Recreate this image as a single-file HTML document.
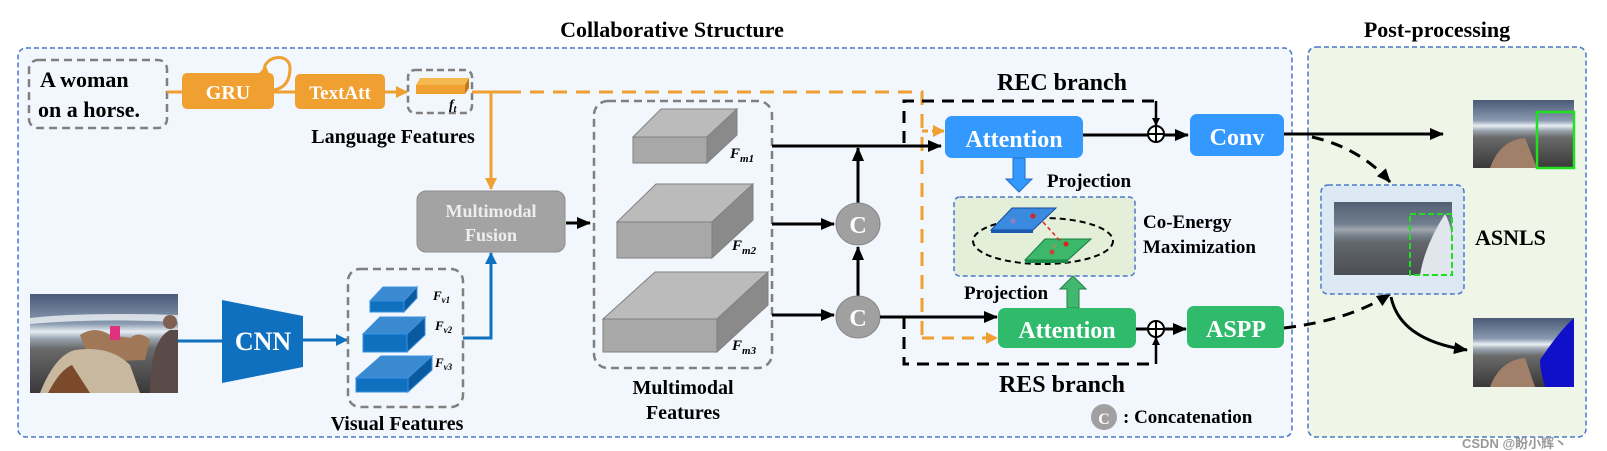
<!DOCTYPE html>
<html><head><meta charset="utf-8"><style>
html,body{margin:0;padding:0;background:#fff;}
svg{display:block;}
text{font-family:"Liberation Serif",serif;font-weight:bold;}
</style></head><body>
<svg width="1607" height="451" viewBox="0 0 1607 451" xmlns="http://www.w3.org/2000/svg">
<defs>
<marker id="ak" markerWidth="8" markerHeight="8" refX="7" refY="4" orient="auto" markerUnits="userSpaceOnUse"><path d="M0,0 L8,4 L0,8 z" fill="#000"/></marker>
<marker id="akb" markerWidth="14" markerHeight="12" refX="13" refY="6" orient="auto" markerUnits="userSpaceOnUse"><path d="M0,0 L14,6 L0,12 z" fill="#000"/></marker>
<marker id="ao" markerWidth="12" markerHeight="12" refX="11" refY="6" orient="auto" markerUnits="userSpaceOnUse"><path d="M0,0 L12,6 L0,12 z" fill="#f0a030"/></marker>
<marker id="ab" markerWidth="12" markerHeight="12" refX="11" refY="6" orient="auto" markerUnits="userSpaceOnUse"><path d="M0,0 L12,6 L0,12 z" fill="#0f70c0"/></marker>
<linearGradient id="sky" x1="0" y1="0" x2="0" y2="1">
<stop offset="0" stop-color="#4a5a78"/><stop offset="0.3" stop-color="#8a9ab0"/><stop offset="0.38" stop-color="#e8eef2"/><stop offset="0.45" stop-color="#9aa5b0"/><stop offset="0.55" stop-color="#6a6a6a"/><stop offset="1" stop-color="#3a3838"/>
</linearGradient>
</defs>

<!-- titles -->
<text x="672" y="37" font-size="22" text-anchor="middle">Collaborative Structure</text>
<text x="1437" y="37" font-size="22" text-anchor="middle">Post-processing</text>

<!-- main containers -->
<rect x="18" y="48" width="1274" height="389" rx="8" fill="#f2f6fd" stroke="#4a78c8" stroke-width="1.5" stroke-dasharray="5,3"/>
<rect x="1308" y="47" width="278" height="390" rx="8" fill="#eff6e8" stroke="#4a78c8" stroke-width="1.5" stroke-dasharray="5,3"/>

<!-- text input -->
<rect x="29" y="60" width="138" height="68" rx="9" fill="none" stroke="#808080" stroke-width="2.5" stroke-dasharray="8,5"/>
<text x="40" y="87" font-size="22">A  woman</text>
<text x="38" y="117" font-size="22">on a horse.</text>
<line x1="167" y1="92" x2="182" y2="92" stroke="#f0a030" stroke-width="3"/>
<rect x="182" y="73" width="92" height="36" rx="5" fill="#f0a030"/>
<text x="228" y="99" font-size="20" fill="#fff" text-anchor="middle">GRU</text>
<path d="M264,73 C262,55 290,52 290,68 C290,80 285,88 274,90" fill="none" stroke="#f0a030" stroke-width="3"/>
<path d="M258,74 L266,66 L270,76 z" fill="#f0a030"/>
<line x1="274" y1="92" x2="295" y2="92" stroke="#f0a030" stroke-width="3"/>
<rect x="295" y="74" width="90" height="35" rx="5" fill="#f0a030"/>
<text x="340" y="99" font-size="19" fill="#fff" text-anchor="middle">TextAtt</text>
<line x1="385" y1="92" x2="407" y2="92" stroke="#f0a030" stroke-width="3" marker-end="url(#ao)"/>
<rect x="408" y="70" width="64" height="43" rx="7" fill="none" stroke="#808080" stroke-width="2.5" stroke-dasharray="7,4"/>
<path d="M416,85 L420,78 L469,78 L465,85 z" fill="#f5b850"/>
<path d="M465,85 L469,78 L469,88 L465,94 z" fill="#c07818"/>
<rect x="416" y="85" width="49" height="9" fill="#f0a030"/>
<text x="449" y="109" font-size="14" font-style="italic">f<tspan font-size="10" dy="3">t</tspan></text>
<text x="393" y="143" font-size="20" text-anchor="middle">Language Features</text>

<!-- orange lines -->
<line x1="472" y1="92" x2="507" y2="92" stroke="#f0a030" stroke-width="3"/>
<line x1="491" y1="92" x2="491" y2="189" stroke="#f0a030" stroke-width="3" marker-end="url(#ao)"/>
<path d="M507,92 L922,92 L922,338" fill="none" stroke="#f0a030" stroke-width="3" stroke-dasharray="14,9"/>
<line x1="922" y1="131" x2="944" y2="131" stroke="#f0a030" stroke-width="3" stroke-dasharray="6,4" marker-end="url(#ao)"/>
<line x1="922" y1="338" x2="997" y2="338" stroke="#f0a030" stroke-width="3" stroke-dasharray="12,8" marker-end="url(#ao)"/>

<!-- fusion -->
<rect x="417" y="191" width="148" height="61" rx="9" fill="#a3a3a3" stroke="#8c8c8c"/>
<text x="491" y="217" font-size="18" fill="#eeeeee" text-anchor="middle">Multimodal</text>
<text x="491" y="241" font-size="18" fill="#eeeeee" text-anchor="middle">Fusion</text>

<!-- image -->
<rect x="30" y="294" width="148" height="99" fill="url(#sky)"/>
<path d="M30,318 Q80,312 178,315 L178,322 Q100,318 30,324 z" fill="#eef3f5" opacity="0.8"/>
<path d="M80,335 Q95,325 110,335 L130,338 Q140,330 150,340 L145,360 L90,362 z" fill="#a07858"/>
<path d="M40,393 Q55,355 75,350 Q110,345 130,365 L140,393 z" fill="#c8b8a0"/>
<path d="M48,393 Q60,370 72,365 L90,393 z" fill="#7a4a2a"/>
<rect x="110" y="326" width="10" height="14" fill="#e03080"/>
<path d="M150,393 Q150,340 170,330 L178,330 L178,393 z" fill="#5a4a48"/>
<circle cx="170" cy="322" r="7" fill="#806050"/>

<!-- CNN -->
<line x1="178" y1="341" x2="222" y2="341" stroke="#0f70c0" stroke-width="3"/>
<path d="M222,300 L303,316 L303,367 L222,383 z" fill="#0f70c0"/>
<text x="263" y="350" font-size="26" fill="#fff" text-anchor="middle">CNN</text>
<line x1="303" y1="340" x2="347" y2="340" stroke="#0f70c0" stroke-width="3" marker-end="url(#ab)"/>

<!-- visual features -->
<rect x="348" y="269" width="115" height="138" rx="12" fill="none" stroke="#808080" stroke-width="2.5" stroke-dasharray="8,5"/>
<g stroke="#3a90e0" stroke-width="1">
<path d="M370,301 L383,287 L417,287 L404,301 z" fill="#3a8ad0"/>
<path d="M404,301 L417,287 L417,298 L404,312 z" fill="#0a5aa0"/>
<rect x="370" y="301" width="34" height="11" fill="#0f70c0"/>
<path d="M363,334 L380,317 L425,317 L407,334 z" fill="#3a8ad0"/>
<path d="M407,334 L425,317 L425,335 L407,352 z" fill="#0a5aa0"/>
<rect x="363" y="334" width="44" height="18" fill="#0f70c0"/>
<path d="M356,378 L381,356 L432,356 L408,378 z" fill="#3a8ad0"/>
<path d="M408,378 L432,356 L432,370 L408,392 z" fill="#0a5aa0"/>
<rect x="356" y="378" width="52" height="14" fill="#0f70c0"/>
</g>
<g font-size="13" font-style="italic"><text x="433" y="300">F<tspan font-size="9" dy="3">v1</tspan></text>
<text x="435" y="330">F<tspan font-size="9" dy="3">v2</tspan></text>
<text x="435" y="367">F<tspan font-size="9" dy="3">v3</tspan></text></g>
<path d="M463,338 L491,338 L491,253" fill="none" stroke="#0f70c0" stroke-width="3" marker-end="url(#ab)"/>
<text x="397" y="430" font-size="20" text-anchor="middle">Visual Features</text>

<!-- fusion -> MF -->
<line x1="566" y1="223" x2="590" y2="223" stroke="#000" stroke-width="3" marker-end="url(#akb)"/>

<!-- multimodal features -->
<rect x="594" y="101" width="178" height="267" rx="14" fill="none" stroke="#808080" stroke-width="2.5" stroke-dasharray="8,5"/>
<g stroke="#808080" stroke-width="1">
<path d="M633,137 L661,109 L737,109 L707,137 z" fill="#bbbbbb"/>
<path d="M707,137 L737,109 L737,135 L707,163 z" fill="#8a8a8a"/>
<rect x="633" y="137" width="74" height="26" fill="#a8a8a8"/>
<path d="M617,222 L656,184 L753,184 L712,222 z" fill="#bbbbbb"/>
<path d="M712,222 L753,184 L753,220 L712,258 z" fill="#8a8a8a"/>
<rect x="617" y="222" width="95" height="36" fill="#a8a8a8"/>
<path d="M603,319 L655,272 L768,272 L717,319 z" fill="#bbbbbb"/>
<path d="M717,319 L768,272 L768,305 L717,352 z" fill="#8a8a8a"/>
<rect x="603" y="319" width="114" height="33" fill="#a8a8a8"/>
</g>
<g font-size="15" font-style="italic"><text x="730" y="158">F<tspan font-size="11" dy="4">m1</tspan></text>
<text x="732" y="250">F<tspan font-size="11" dy="4">m2</tspan></text>
<text x="732" y="350">F<tspan font-size="11" dy="4">m3</tspan></text></g>
<text x="683" y="394" font-size="20" text-anchor="middle">Multimodal</text>
<text x="683" y="419" font-size="20" text-anchor="middle">Features</text>

<!-- concat -->
<line x1="772" y1="146" x2="941" y2="146" stroke="#000" stroke-width="3" marker-end="url(#akb)"/>
<line x1="772" y1="224" x2="834" y2="224" stroke="#000" stroke-width="3" marker-end="url(#akb)"/>
<line x1="772" y1="315" x2="834" y2="315" stroke="#000" stroke-width="3" marker-end="url(#akb)"/>
<line x1="858" y1="296" x2="858" y2="247" stroke="#000" stroke-width="3" marker-end="url(#akb)"/>
<line x1="858" y1="203" x2="858" y2="148" stroke="#000" stroke-width="3" marker-end="url(#akb)"/>
<ellipse cx="858" cy="224" rx="22" ry="21" fill="#a0a0a0" stroke="#888"/>
<ellipse cx="858" cy="317" rx="22" ry="21" fill="#a0a0a0" stroke="#888"/>
<text x="858" y="233" font-size="24" fill="#fff" text-anchor="middle">C</text>
<text x="858" y="326" font-size="24" fill="#fff" text-anchor="middle">C</text>
<line x1="880" y1="317" x2="997" y2="317" stroke="#000" stroke-width="3" marker-end="url(#akb)"/>

<!-- branch boxes -->
<path d="M904,143 L904,101 L1156,101" fill="none" stroke="#000" stroke-width="3" stroke-dasharray="12,8"/>
<line x1="1156" y1="101" x2="1156" y2="125" stroke="#000" stroke-width="2.5" marker-end="url(#ak)"/>
<path d="M904,317 L904,364 L1156,364" fill="none" stroke="#000" stroke-width="3" stroke-dasharray="12,8"/>
<line x1="1156" y1="364" x2="1156" y2="338" stroke="#000" stroke-width="2.5" marker-end="url(#ak)"/>
<text x="1062" y="90" font-size="24" text-anchor="middle">REC branch</text>
<text x="1062" y="392" font-size="24" text-anchor="middle">RES branch</text>

<!-- REC -->
<rect x="945" y="116" width="138" height="42" rx="7" fill="#3399ff"/>
<text x="1014" y="147" font-size="24" fill="#fff" text-anchor="middle">Attention</text>
<line x1="1083" y1="135" x2="1148" y2="135" stroke="#000" stroke-width="3"/>
<circle cx="1156" cy="134" r="8" fill="#fff" stroke="#000" stroke-width="2"/>
<path d="M1148,134 H1164 M1156,126 V142" stroke="#000" stroke-width="2"/>
<line x1="1164" y1="135" x2="1188" y2="135" stroke="#000" stroke-width="3" marker-end="url(#akb)"/>
<rect x="1190" y="114" width="94" height="42" rx="7" fill="#3399ff"/>
<text x="1237" y="145" font-size="24" fill="#fff" text-anchor="middle">Conv</text>

<!-- projections -->
<path d="M1013,158 L1025,158 L1025,179 L1032,179 L1019,192 L1006,179 L1013,179 z" fill="#3399ff" stroke="#2070c0"/>
<text x="1047" y="187" font-size="19">Projection</text>
<rect x="954" y="197" width="181" height="79" rx="6" fill="#e3efd9" stroke="#4a78c8" stroke-width="1.5" stroke-dasharray="5,3"/>
<ellipse cx="1043" cy="241" rx="70" ry="23" fill="none" stroke="#000" stroke-width="2" stroke-dasharray="6,4"/>
<path d="M991,230 L1012,208 L1056,208 L1033,230 z" fill="#3a8ae0" stroke="#1a4aa0"/>
<rect x="991" y="230" width="42" height="3" fill="#1a5ab0"/>
<circle cx="1033" cy="216" r="2.5" fill="#e02020"/><circle cx="1013" cy="221" r="2.5" fill="#9080c0"/>
<path d="M1025,260 L1045,239 L1091,239 L1068,260 z" fill="#3cb86a" stroke="#1a7a3a"/>
<rect x="1025" y="260" width="43" height="3" fill="#1a8a4a"/>
<circle cx="1066" cy="244" r="2.5" fill="#e02020"/><circle cx="1052" cy="252" r="2.5" fill="#d04040"/><circle cx="1054" cy="246" r="2" fill="#80a060"/>
<line x1="1043" y1="222" x2="1062" y2="243" stroke="#e02020" stroke-width="1.5" stroke-dasharray="4,3"/>
<text x="1143" y="228" font-size="19">Co-Energy</text>
<text x="1143" y="253" font-size="19">Maximization</text>
<path d="M1067,308 L1079,308 L1079,289 L1086,289 L1073,276 L1060,289 L1067,289 z" fill="#40b870" stroke="#208040"/>
<text x="964" y="299" font-size="19">Projection</text>

<!-- RES -->
<rect x="998" y="308" width="138" height="40" rx="7" fill="#30bb6c"/>
<text x="1067" y="338" font-size="24" fill="#fff" text-anchor="middle">Attention</text>
<line x1="1136" y1="329" x2="1148" y2="329" stroke="#000" stroke-width="3"/>
<circle cx="1156" cy="329" r="8" fill="#fff" stroke="#000" stroke-width="2"/>
<path d="M1148,329 H1164 M1156,321 V337" stroke="#000" stroke-width="2"/>
<line x1="1164" y1="329" x2="1186" y2="329" stroke="#000" stroke-width="3" marker-end="url(#akb)"/>
<rect x="1187" y="306" width="97" height="42" rx="7" fill="#30bb6c"/>
<text x="1236" y="337" font-size="24" fill="#fff" text-anchor="middle">ASPP</text>

<!-- legend -->
<circle cx="1104" cy="417" r="13" fill="#a0a0a0"/>
<text x="1104" y="424" font-size="16" fill="#fff" text-anchor="middle">C</text>
<text x="1123" y="423" font-size="19">: Concatenation</text>

<!-- post processing -->
<line x1="1284" y1="134" x2="1443" y2="134" stroke="#000" stroke-width="3" marker-end="url(#akb)"/>
<path d="M1312,137 Q1360,148 1390,182" fill="none" stroke="#000" stroke-width="3" stroke-dasharray="12,8" marker-end="url(#akb)"/>
<path d="M1284,328 Q1350,320 1390,294" fill="none" stroke="#000" stroke-width="3" stroke-dasharray="12,8" marker-end="url(#akb)"/>
<path d="M1391,297 Q1400,340 1467,350" fill="none" stroke="#000" stroke-width="3" marker-end="url(#akb)"/>

<rect x="1473" y="100" width="101" height="68" fill="url(#sky)"/>
<path d="M1490,168 Q1500,140 1525,138 L1537,168 z" fill="#a08068"/>
<rect x="1537" y="112" width="37" height="56" fill="none" stroke="#20e020" stroke-width="2.5"/>

<rect x="1321" y="185" width="143" height="109" rx="7" fill="#dde8f5" stroke="#4a78c8" stroke-width="1.5" stroke-dasharray="5,3"/>
<rect x="1334" y="202" width="118" height="73" fill="url(#sky)" opacity="0.75"/>
<rect x="1334" y="202" width="118" height="73" fill="#202830" opacity="0.35"/>
<path d="M1445,214 Q1455,230 1452,275 L1420,275 Q1425,245 1445,214 z" fill="#e0e6ec"/>
<rect x="1410" y="214" width="42" height="61" fill="none" stroke="#20e020" stroke-width="2" stroke-dasharray="6,3"/>
<text x="1475" y="245" font-size="22">ASNLS</text>

<rect x="1473" y="318" width="101" height="69" fill="url(#sky)"/>
<path d="M1490,387 Q1500,360 1525,358 L1535,387 z" fill="#a08068"/>
<path d="M1540,360 Q1560,330 1574,318 L1574,387 L1545,387 Q1540,370 1540,360 z" fill="#1010c8"/>

<text x="1462" y="448" font-size="13" fill="#999" font-weight="normal" style="font-family:'Liberation Sans','Noto Sans CJK SC',sans-serif;">CSDN @盼小辉丶</text>
</svg>
</body></html>
